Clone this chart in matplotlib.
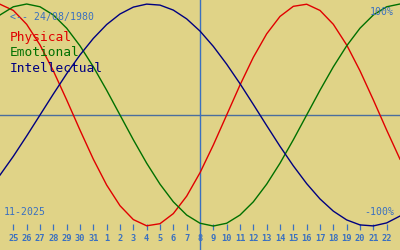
import matplotlib
matplotlib.use("Agg")
import matplotlib.pyplot as plt

# days relative to the current day (8 Nov 2025)
day_offsets = list(range(-15, 16))
physical = [0.998, 0.942, 0.817, 0.631, 0.398, 0.136, -0.136, -0.398, -0.631, -0.817,
            -0.942, -0.998, -0.979, -0.888, -0.731, -0.520, -0.270, 0.0, 0.270, 0.520,
            0.731, 0.888, 0.979, 0.998, 0.942, 0.817, 0.631, 0.398, 0.136, -0.136, -0.398]
emotional = [0.901, 0.975, 1.0, 0.975, 0.901, 0.782, 0.623, 0.434, 0.223, 0.0,
             -0.223, -0.434, -0.623, -0.782, -0.901, -0.975, -1.0, -0.975, -0.901, -0.782,
             -0.623, -0.434, -0.223, 0.0, 0.223, 0.434, 0.623, 0.782, 0.901, 0.975, 1.0]
intellectual = [-0.541, -0.372, -0.189, 0.0, 0.189, 0.372, 0.541, 0.690, 0.815, 0.910,
                0.972, 0.999, 0.990, 0.945, 0.866, 0.756, 0.618, 0.458, 0.282, 0.095,
                -0.095, -0.282, -0.458, -0.618, -0.756, -0.866, -0.945, -0.990, -0.999, -0.972, -0.910]
tick_offsets = list(range(-14, 15))
tick_labels = ["25", "26", "27", "28", "29", "30", "31", "1", "2", "3", "4", "5", "6", "7",
               "8", "9", "10", "11", "12", "13", "14", "15", "16", "17", "18", "19", "20",
               "21", "22"]

BG = "#e0d387"
BLUE = "#3a70c0"
RED = "#e00000"
GREEN = "#007000"
NAVY = "#000080"
MONO = "DejaVu Sans Mono"

fig = plt.figure(figsize=(4, 2.5), dpi=100, facecolor=BG)
ax = fig.add_axes([0, 0, 1, 1], facecolor=BG)
ax.set_xlim(-15, 15)
ax.set_ylim(-1.216, 1.036)

ax.axhline(0, color="#4a6e9e", lw=1.0, zorder=1)
ax.axvline(0, color=BLUE, lw=1.0, zorder=1)

ax.plot(day_offsets, physical, color=RED, lw=1.0, zorder=3)
ax.plot(day_offsets, emotional, color=GREEN, lw=1.0, zorder=3)
ax.plot(day_offsets, intellectual, color=NAVY, lw=1.0, zorder=3)

for s in ax.spines.values():
    s.set_visible(False)
ax.spines["bottom"].set_position(("data", -1.036))
ax.set_yticks([])
ax.set_xticks(tick_offsets)
ax.set_xticklabels(tick_labels, family=MONO, fontsize=6.2, fontweight="bold")
ax.tick_params(axis="x", direction="in", length=4.5, width=0.9, color=BLUE,
               labelcolor=BLUE, pad=3)

fig.text(10 / 400, 1 - 17 / 250, "<-- 24/08/1980", family=MONO, fontsize=7.1,
         color=BLUE, va="center", ha="left")
fig.text(10 / 400, 1 - 38 / 250, "Physical", family=MONO, fontsize=9.3,
         color=RED, va="center", ha="left")
fig.text(10 / 400, 1 - 53 / 250, "Emotional", family=MONO, fontsize=9.3,
         color=GREEN, va="center", ha="left")
fig.text(10 / 400, 1 - 68 / 250, "Intellectual", family=MONO, fontsize=9.3,
         color=NAVY, va="center", ha="left")
fig.text(394 / 400, 1 - 12 / 250, "100%", family=MONO, fontsize=7.1,
         color=BLUE, va="center", ha="right")
fig.text(394 / 400, 1 - 212 / 250, "-100%", family=MONO, fontsize=7.1,
         color=BLUE, va="center", ha="right")
fig.text(4 / 400, 1 - 212 / 250, "11-2025", family=MONO, fontsize=7.1,
         color=BLUE, va="center", ha="left")

fig.savefig("out.png", dpi=100, facecolor=BG)
